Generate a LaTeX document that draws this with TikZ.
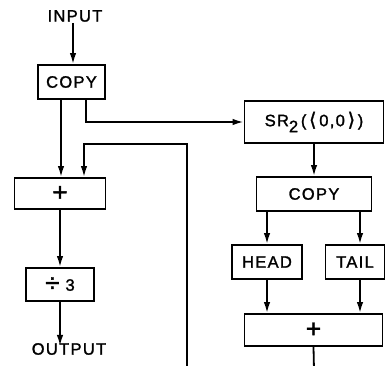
\documentclass[tikz,border=0pt]{standalone}
\usepackage{fontspec}
\setmainfont{Liberation Sans}[LetterSpace=8, FakeBold=1.5]
\newfontfamily\bracketfont{DejaVu Sans}[FakeBold=1.5]
\usepackage{tikz}
\usetikzlibrary{arrows.meta,calc}
\newcommand{\bigsym}[1]{{\fontsize{26}{26}\selectfont #1}}
\tikzstyle{block}=[draw, line width=1.8pt, inner sep=0pt, font=\fontsize{16.5}{17}\selectfont]
\tikzstyle{lbl}=[inner sep=1pt, font=\fontsize{16.5}{17}\selectfont]
\tikzstyle{wire}=[line width=1.8pt]
\tikzstyle{flow}=[line width=1.8pt, -{Latex[length=11pt,width=6.5pt]}]

\begin{document}
\begin{tikzpicture}[x=1pt,y=-1pt]
        \useasboundingbox (0,0) rectangle (386,366);
        % left column
        \node[lbl] (input) at (75,16) {INPUT};
        \node[block, minimum width=67, minimum height=34] (copyA) at (71.5,82) {COPY};
        \node[block, minimum width=91, minimum height=31] (sumA) at (60,193.5) {\bigsym{+}};
        \node[block, minimum width=68, minimum height=33] (divide) at (60,284.5) {\raisebox{-1pt}{\bigsym{÷}}\ 3};
        \node[lbl] (output) at (69,349) {OUTPUT};
        % right column
        \node[block, minimum width=139, minimum height=42] (shift) at (314,122)
          {SR\raisebox{-6pt}{2}\,(\,{\bracketfont\fontsize{19}{19}\selectfont ⟨}\,0,0\,{\bracketfont\fontsize{19}{19}\selectfont ⟩}\,)};
        \node[block, minimum width=115, minimum height=34] (copyB) at (314,194) {COPY};
        \node[block, minimum width=70, minimum height=34] (head) at (267,262) {HEAD};
        \node[block, minimum width=59, minimum height=34] (tail) at (355,262) {TAIL};
        \node[block, minimum width=138, minimum height=32] (sumB) at (313.5,330) {\bigsym{+}};
        \coordinate (back) at (187,370);
        \coordinate (outB) at (314,370);

        \draw[flow] (input.south -| 73,0) -- (copyA.north -| 73,0);
        \draw[flow] ([xshift=-10.5]copyA.south) -- ([xshift=-10.5]copyA.south |- sumA.north);
        \draw[flow] ([xshift=14.5]copyA.south) |- (shift.west);
        \draw[flow] (back) -- ++(0,-226) -| ([xshift=24]sumA.north);
        \draw[flow] (sumA.south) -- (divide.north);
        \draw[flow] (divide.south) -- ([yshift=-4]divide.south |- output.north);
        \draw[flow] (shift.south) -- (copyB.north);
        \draw[flow] (copyB.south -| head.north) -- (head.north);
        \draw[flow] ([xshift=5]tail.north |- copyB.south) -- ([xshift=5]tail.north);
        \draw[flow] (head.south) -- (head.south |- sumB.north);
        \draw[flow] ([xshift=5]tail.south) -- ([xshift=5]tail.south |- sumB.north);
        \draw[wire] (sumB.south) -- (outB);
      \end{tikzpicture}
\end{document}
